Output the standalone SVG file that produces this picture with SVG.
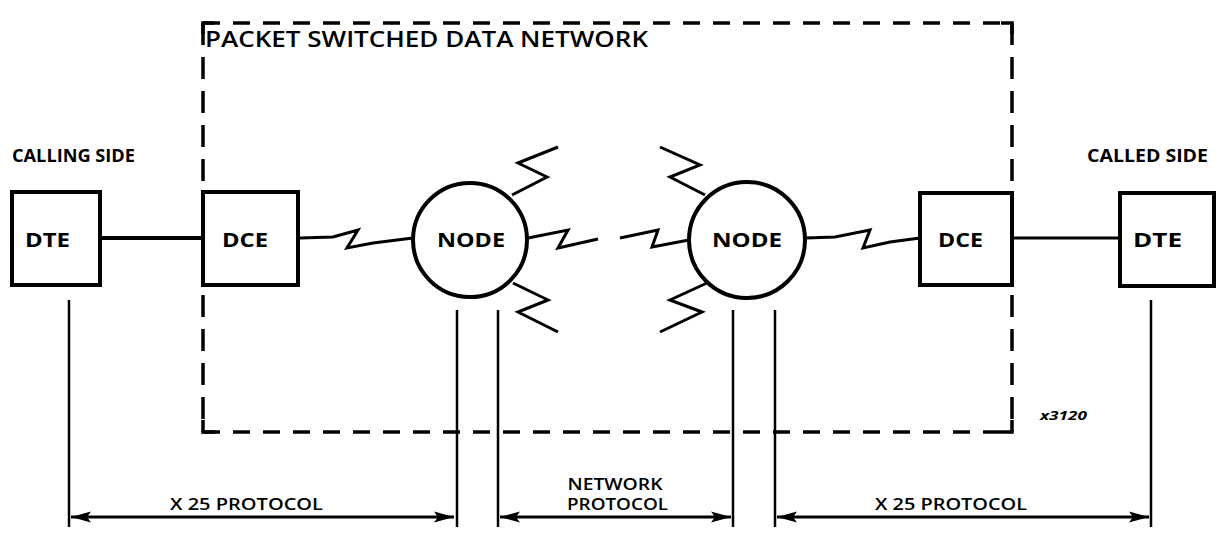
<svg xmlns="http://www.w3.org/2000/svg" width="1219" height="534" viewBox="0 0 1219 534">
<style>
text{font-family:"Open Sans","Liberation Sans",sans-serif;fill:#000;}
.lbl{font-size:19px;font-weight:700;text-anchor:middle;}
.side{font-size:17px;font-weight:700;}
.title{font-size:21px;font-weight:600;}
.proto{font-size:17px;font-weight:600;}
.net{font-size:16px;font-weight:600;text-anchor:middle;}
.fig{font-size:12px;font-weight:700;font-style:italic;}
.box{fill:#fff;stroke:#000;stroke-width:4;}
.node{fill:#fff;stroke:#000;stroke-width:4;}
.zig{fill:none;stroke:#000;stroke-width:3;stroke-linejoin:miter;}
.vl{stroke:#000;stroke-width:2.5;}
.dh{stroke:#000;stroke-width:3.5;stroke-dasharray:17 13;fill:none;}
.dv{stroke:#000;stroke-width:3.5;stroke-dasharray:22 12;fill:none;}
.arr{stroke:#000;stroke-width:3;marker-start:url(#ah);marker-end:url(#ah);}
</style>
<defs>
<marker id="ah" markerUnits="userSpaceOnUse" markerWidth="22" markerHeight="14" refX="20" refY="7" orient="auto-start-reverse">
<path d="M0,1.5 L20,7 L0,12.5 L4,7 Z" fill="#000"/>
</marker>
</defs>
<rect width="1219" height="534" fill="#fff"/>

<g id="network-boundary">
<line class="dh" x1="203" y1="23" x2="1012" y2="23"/>
<line class="dh" x1="203" y1="432" x2="1012" y2="432"/>
<line class="dv" x1="203" y1="23" x2="203" y2="432"/>
<line class="dv" x1="1012" y1="23" x2="1012" y2="432"/>
<path d="M203,34 V23 H214" fill="none" stroke="#000" stroke-width="3.5"/>
<path d="M1001,23 H1012 V34" fill="none" stroke="#000" stroke-width="3.5"/>
<path d="M203,420 V432 H215" fill="none" stroke="#000" stroke-width="3.5"/>
<path d="M1000,432 H1012 V420" fill="none" stroke="#000" stroke-width="3.5"/>
<text class="title" x="205" y="47" textLength="443" lengthAdjust="spacingAndGlyphs">PACKET SWITCHED DATA NETWORK</text>
</g>

<g id="connectors">
<line x1="100" y1="238" x2="203" y2="238" stroke="#000" stroke-width="4"/>
<line x1="1012" y1="238" x2="1120" y2="238" stroke="#000" stroke-width="3"/>
<polyline class="zig" points="300,238 333,237 358,230 347,248 373,243 413,238"/>
<polyline class="zig" points="806,238 835,237 870,230 863,248 890,242 920,238"/>
<polyline class="zig" points="512,195 547,177 518,163 558,147"/>
<polyline class="zig" points="528,238 568,230 558,248 598,239"/>
<polyline class="zig" points="513,283 548,300 518,312 558,332"/>
<polyline class="zig" points="705,195 670,177 700,165 660,147"/>
<polyline class="zig" points="689,240 652,247 658,230 620,238"/>
<polyline class="zig" points="707,283 670,300 702,312 660,332"/>
<line class="vl" x1="69" y1="300" x2="69" y2="527"/>
<line class="vl" x1="457" y1="310" x2="457" y2="527"/>
<line class="vl" x1="498" y1="310" x2="498" y2="527"/>
<line class="vl" x1="733" y1="310" x2="733" y2="527"/>
<line class="vl" x1="775" y1="310" x2="775" y2="527"/>
<line class="vl" x1="1151" y1="300" x2="1151" y2="527"/>
<line class="arr" x1="71" y1="517" x2="454" y2="517"/>
<line class="arr" x1="500" y1="517" x2="731" y2="517"/>
<line class="arr" x1="777" y1="517" x2="1149" y2="517"/>
</g>

<g id="dte-left">
<rect class="box" x="12" y="192" width="88" height="93"/>
<text class="lbl" x="47.5" y="247" textLength="45" lengthAdjust="spacingAndGlyphs">DTE</text>
</g>
<g id="dce-left">
<rect class="box" x="203" y="192" width="95" height="93"/>
<text class="lbl" x="245" y="247" textLength="46" lengthAdjust="spacingAndGlyphs">DCE</text>
</g>
<g id="node-left">
<circle class="node" cx="470" cy="240" r="57"/>
<text class="lbl" x="471" y="247" textLength="68" lengthAdjust="spacingAndGlyphs">NODE</text>
</g>
<g id="node-right">
<circle class="node" cx="747" cy="240" r="58"/>
<text class="lbl" x="747" y="247" textLength="70" lengthAdjust="spacingAndGlyphs">NODE</text>
</g>
<g id="dce-right">
<rect class="box" x="920" y="193" width="92" height="92"/>
<text class="lbl" x="960.5" y="247" textLength="45" lengthAdjust="spacingAndGlyphs">DCE</text>
</g>
<g id="dte-right">
<rect class="box" x="1120" y="193" width="94" height="93"/>
<text class="lbl" x="1157.5" y="247" textLength="49" lengthAdjust="spacingAndGlyphs">DTE</text>
</g>

<g id="labels">
<text class="side" x="12" y="162" textLength="123" lengthAdjust="spacingAndGlyphs">CALLING SIDE</text>
<text class="side" x="1087" y="162" textLength="121" lengthAdjust="spacingAndGlyphs">CALLED SIDE</text>
<text class="proto" x="170" y="510" textLength="153" lengthAdjust="spacingAndGlyphs">X 25 PROTOCOL</text>
<text class="proto" x="875" y="510" textLength="152" lengthAdjust="spacingAndGlyphs">X 25 PROTOCOL</text>
<text class="net" x="615" y="490" textLength="95" lengthAdjust="spacingAndGlyphs">NETWORK</text>
<text class="net" x="617.5" y="510" textLength="101" lengthAdjust="spacingAndGlyphs">PROTOCOL</text>
<text class="fig" x="1040" y="420" textLength="47" lengthAdjust="spacingAndGlyphs">x3120</text>
</g>
</svg>
